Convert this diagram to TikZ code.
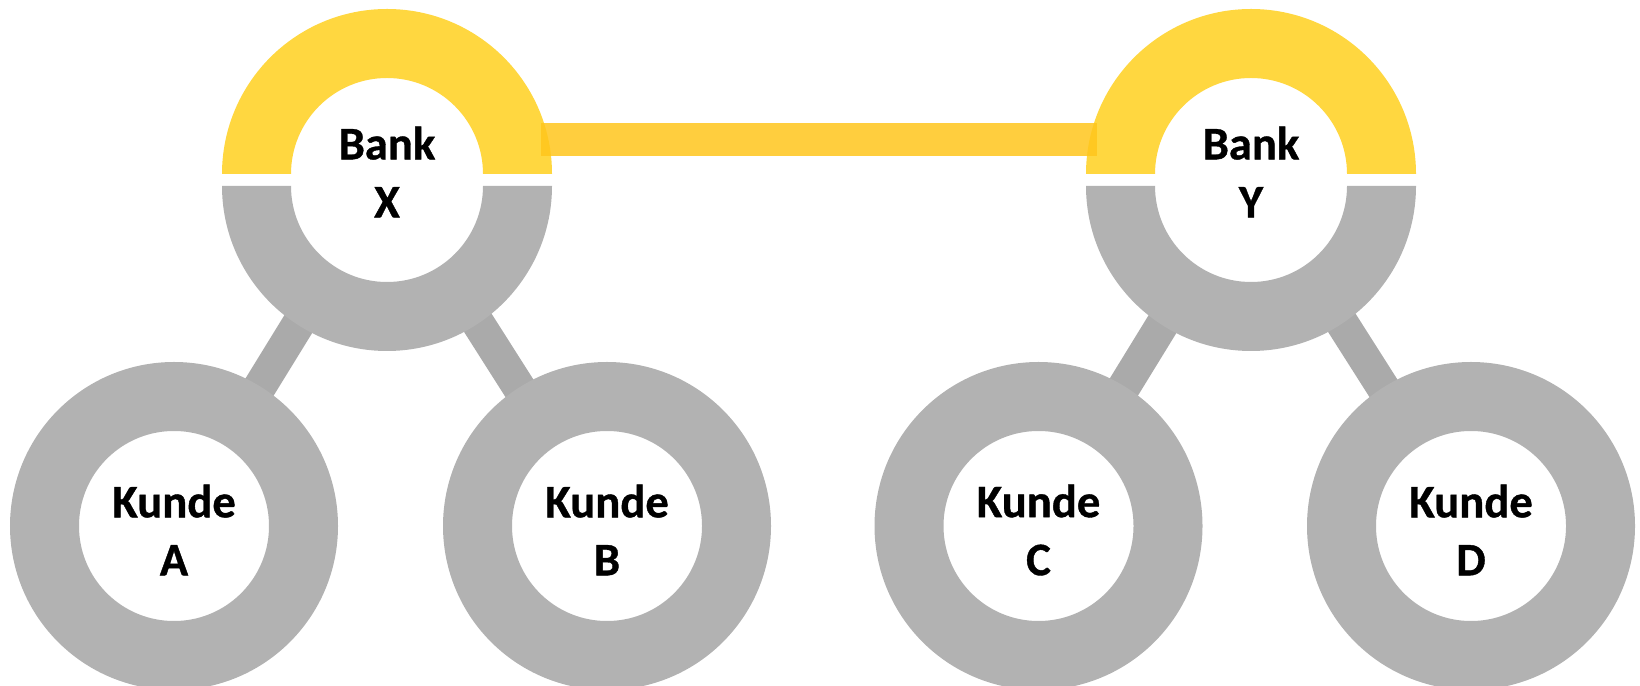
\documentclass[tikz,border=0pt]{standalone}
\usepackage{fontspec}
\setmainfont{Carlito}[BoldFeatures={FakeBold=0.8}]
\usetikzlibrary{backgrounds}
\definecolor{ringgray}{RGB}{178,178,178}
\definecolor{bargray}{RGB}{170,170,170}
\definecolor{bankyellow}{RGB}{255,215,64}
\definecolor{linkyellow}{RGB}{255,198,28}
\newcommand\labelfont{\fontsize{46.6}{58}\selectfont\bfseries}

\begin{document}
\begin{tikzpicture}[x=1pt,y=1pt,
  kunde/.style={circle, fill=white, draw=ringgray, line width=69pt,
    minimum size=259pt, inner sep=0pt},
  bankhole/.style={circle, fill=white, minimum size=220pt, inner sep=0pt},
  labeltext/.style={align=center, font=\labelfont, inner sep=0pt},
  tie/.style={draw=bargray, line width=33pt},
  link/.style={draw=linkyellow, draw opacity=0.85, line width=33pt}]
\useasboundingbox (0,0) rectangle (1640,685);

% customer rings
\node[kunde] (ka) at (174,159) {};
\node[kunde] (kb) at (607,159) {};
\node[kunde] (kc) at (1038.5,159) {};
\node[kunde] (kd) at (1471,159) {};

% customer labels
\node[labeltext] (kat) at (174,155) {Kunde\\A};
\node[labeltext] (kbt) at (607,155) {Kunde\\B};
\node[labeltext] (kct) at (1038.5,155) {Kunde\\C};
\node[labeltext] (kdt) at (1471,155) {Kunde\\D};

% bank centres (white holes)
\node[bankhole] (bx) at (387,505) {};
\node[bankhole] (by) at (1251,505) {};

% bank rings: yellow upper half, grey lower half
\foreach \cx in {387,1251}{
  \fill[bankyellow] ({\cx-165},511) arc[start angle=180,end angle=0,radius=165]
    -- ({\cx+96},511) arc[start angle=0,end angle=180,radius=96] -- cycle;
  \fill[ringgray] ({\cx-165},499) arc[start angle=180,end angle=360,radius=165]
    -- ({\cx+96},499) arc[start angle=360,end angle=180,radius=96] -- cycle;
}

\node[labeltext] (bxt) at (387,513) {Bank\\X};
\node[labeltext] (byt) at (1251,513) {Bank\\Y};

% grey ties between banks and customers
\begin{pgfonlayer}{background}
  \draw[tie] (bx.center) -- (ka.center);
  \draw[tie] (bx.center) -- (kb.center);
  \draw[tie] (by.center) -- (kc.center);
  \draw[tie] (by.center) -- (kd.center);
\end{pgfonlayer}

% interbank link
\coordinate (lx) at (541,545.5);
\coordinate (ly) at (1097,545.5);
\draw[link] (lx) -- (ly);
\end{tikzpicture}
\end{document}
